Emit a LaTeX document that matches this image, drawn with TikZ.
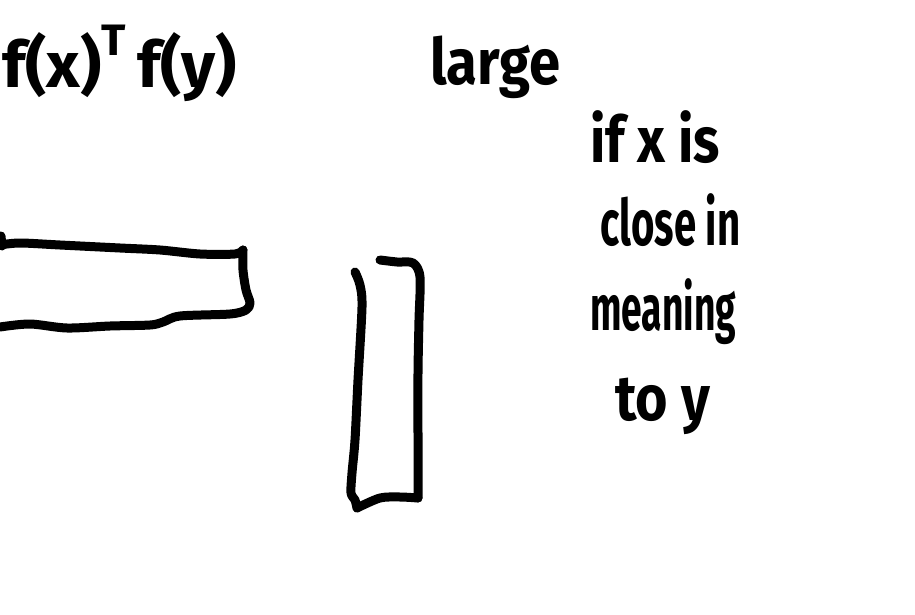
\documentclass[tikz,border=0pt]{standalone}
\usepackage{graphicx}
\usepackage{fontspec}
\setmainfont{Fira Sans}
\newcommand{\hwtext}[2]{\resizebox{#1}{\height}{\fontsize{64}{68}\selectfont\bfseries #2}}
\tikzset{
  stroke/.style={line width=9pt, line cap=round, line join=round, black},
  hw/.style={inner sep=0pt, anchor=base west}
}
\begin{document}
\begin{tikzpicture}[x=1pt,y=-1pt]
\useasboundingbox (0,0) rectangle (915,615);
% texts
\node[hw] (fxfy) at (2,88) {\hwtext{235pt}{f(x)\raisebox{0.5em}{\fontsize{44}{48}\selectfont T}\,f(y)}};
\node[hw] (large) at (430,85) {\hwtext{130pt}{large}};
\node[hw] (ifx) at (590,162) {\hwtext{130pt}{if x is}};
\node[hw] (close) at (600,245) {\hwtext{140pt}{close in}};
\node[hw] (meaning) at (590,330) {\hwtext{146pt}{meaning}};
\node[hw] (toy) at (615,420) {\hwtext{95pt}{to y}};
% horizontal box (f(x)^T)
\draw[stroke] plot[smooth, tension=0.5] coordinates {(0,245) (20,243) (60,245) (120,248) (160,250) (200,254) (235,254) (243,250)};
\draw[stroke] plot[smooth, tension=0.5] coordinates {(243,250) (243,270) (246,290) (250,303) (246,310) (230,314) (180,316) (163,322) (150,325) (110,326) (67,328) (30,324) (0,327)};
\draw[stroke] (1,236) -- (2,246);
% vertical box (f(y))
\draw[stroke] plot[smooth, tension=0.5] coordinates {(355,272) (360,285) (362,307) (358,380) (355,440) (352,473) (351,493) (355,500) (357,508)};
\draw[stroke] plot[smooth, tension=0.5] coordinates {(357,508) (380,498) (400,497) (418,498)};
\draw[stroke] plot[smooth, tension=0.5] coordinates {(418,498) (418,440) (418,373) (419,320) (420,277) (413,263) (397,262) (380,260)};
\end{tikzpicture}
\end{document}
